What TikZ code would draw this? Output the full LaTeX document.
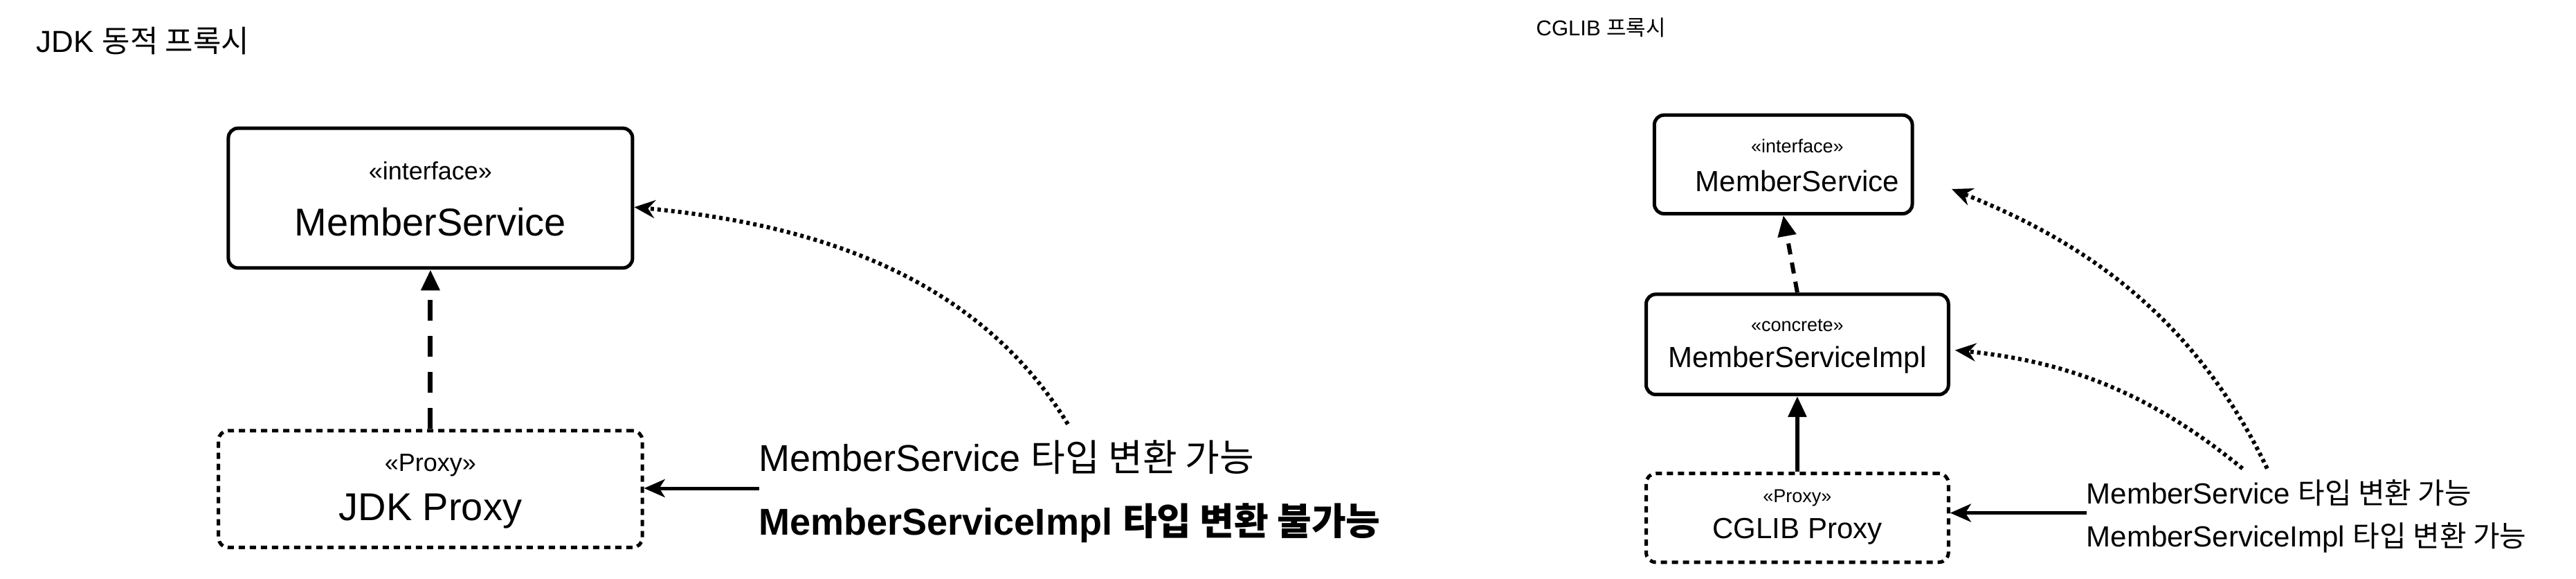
\documentclass[tikz,border=0pt]{standalone}
\usepackage{fontspec}
\setmainfont{Liberation Sans}
\newfontfamily\krf{Noto Sans CJK KR}
\newcommand{\kr}[1]{{\krf #1}}
\usetikzlibrary{arrows.meta}
\begin{document}
\begin{tikzpicture}[x=2.374pt,y=-2.374pt,
  box/.style={draw,line width=5pt,rounded corners=14pt,align=center,inner sep=0pt},
  pbox/.style={draw,line width=5pt,dash pattern=on 9pt off 7pt,rounded corners=14pt,align=center,inner sep=0pt},
  big/.style={font=\fontsize{56}{66}\selectfont},
  sbig/.style={font=\fontsize{42}{50}\selectfont},
  tip/.style={-{Triangle[length=30pt,width=26pt]}},
  dotc/.style={line width=6pt,dash pattern=on 5pt off 5pt,-{Stealth[length=30pt,width=26pt,inset=10pt]}},
  lbl/.style={anchor=west,inner sep=0pt}]
\useasboundingbox (0,0) rectangle (1568,352);
% titles
\node[lbl,font=\fontsize{44}{50}\selectfont] (t1) at (22,25) {JDK \kr{동적 프록시}};
\node[lbl,font=\fontsize{31}{36}\selectfont] (t2) at (935,17) {CGLIB \kr{프록시}};
% left
\node[box,minimum width=246*2.374pt,minimum height=85*2.374pt] (ms) at (262,120.5) {};
\node[font=\fontsize{36}{40}\selectfont] at (262,104) {<<interface>>};
\node[big] at (262,135) {MemberService};
\node[pbox,minimum width=258*2.374pt,minimum height=71*2.374pt] (jp) at (262,297.5) {};
\node[font=\fontsize{36}{40}\selectfont] at (262,283) {<<Proxy>>};
\node[big] at (262,311) {JDK Proxy};
\draw[line width=7pt,dash pattern=on 30pt off 22pt,tip] (jp.north) -- (ms.south);
\node[lbl,font=\fontsize{54}{60}\selectfont] (l1) at (462,278) {MemberService \kr{타입 변환 가능}};
\node[lbl,font=\fontsize{54}{60}\selectfont\bfseries] (l2) at (462,318) {MemberServiceImpl \krf\bfseries 타입 변환 불가능};
\coordinate (la) at (650,258);
\draw[dotc] (la) .. controls (590,160) and (480,135) .. (ms.east|-0,126);
\draw[line width=5pt,-{Stealth[length=30pt,width=26pt,inset=8pt]}] (l1.west|-0,297) -- (jp.east|-0,297);
% right
\node[box,minimum width=157*2.374pt,minimum height=60*2.374pt] (rms) at (1085.5,100) {};
\node[font=\fontsize{27}{30}\selectfont] at (1094,89) {<<interface>>};
\node[sbig] at (1094,110) {MemberService};
\node[box,minimum width=184*2.374pt,minimum height=61*2.374pt] (rmi) at (1094,209.5) {};
\node[font=\fontsize{27}{30}\selectfont] at (1094,198) {<<concrete>>};
\node[sbig] at (1094,219) {MemberServiceImpl};
\node[pbox,minimum width=184*2.374pt,minimum height=54*2.374pt] (rp) at (1094,315) {};
\node[font=\fontsize{27}{30}\selectfont] at (1094,303) {<<Proxy>>};
\node[sbig] at (1094,323) {CGLIB Proxy};
\draw[line width=6pt,dash pattern=on 16pt off 12pt,tip] (rmi.north) -- (rms.south);
\draw[line width=6pt,tip] (rp.north) -- (rmi.south);
\node[lbl,font=\fontsize{42}{48}\selectfont] (r1) at (1270,300) {MemberService \kr{타입 변환 가능}};
\node[lbl,font=\fontsize{42}{48}\selectfont] (r2) at (1270,327) {MemberServiceImpl \kr{타입 변환 가능}};
\coordinate (ra) at (1380,285);
\coordinate (rb) at (1365,285);
\draw[dotc] (ra) .. controls (1330,180) and (1250,140) .. (1188,115);
\draw[dotc] (rb) .. controls (1310,240) and (1260,220) .. (1190,213);
\draw[line width=5pt,-{Stealth[length=30pt,width=26pt,inset=8pt]}] (r1.west|-0,312) -- (rp.east|-0,312);
\end{tikzpicture}
\end{document}
